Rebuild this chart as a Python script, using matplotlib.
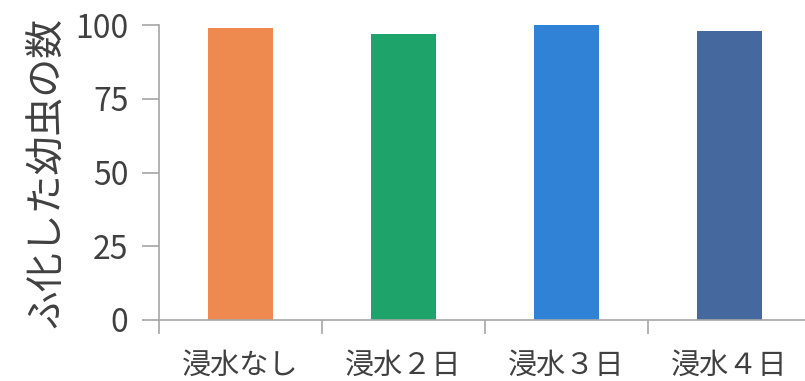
import numpy as np
import matplotlib
matplotlib.use("Agg")
import matplotlib.pyplot as plt

plt.rcParams['font.family'] = ['Noto Sans CJK JP', 'DejaVu Sans']

# data
categories = ["浸水なし", "浸水２日", "浸水３日", "浸水４日"]
hatched = [99, 97, 100, 98]
bar_colors = ["#EE8A4F", "#1EA36A", "#2F82D6", "#45699E"]

axis_grey = "#A6A6A6"
text_grey = "#404040"

fig = plt.figure(figsize=(8.05, 3.81), dpi=100)
# axes runs a little past the right edge, as in the original crop
ax = fig.add_axes([159 / 805, 61 / 381, 652 / 805, 295 / 381])

x = np.arange(len(categories))
ax.bar(x, hatched, width=0.4, color=bar_colors, zorder=2)

ax.set_xlim(-0.5, len(categories) - 0.5)
ax.set_ylim(0, 100)
ax.set_yticks([0, 25, 50, 75, 100])

# category ticks sit on the boundaries between categories
ax.set_xticks(np.arange(len(categories) + 1) - 0.5)
ax.set_xticklabels([])
ax.set_xticks(x, minor=True)
ax.set_xticklabels(categories, minor=True, fontsize=21, color=text_grey)
ax.tick_params(axis='x', which='minor', length=0, pad=22)
ax.tick_params(axis='x', which='major', length=10, color=axis_grey, width=1.2)
ax.tick_params(axis='y', length=12, color=axis_grey, width=1.2,
               labelsize=23, labelcolor=text_grey, pad=10)

for side in ['top', 'right']:
    ax.spines[side].set_visible(False)
for side in ['left', 'bottom']:
    ax.spines[side].set_color(axis_grey)
    ax.spines[side].set_linewidth(1.2)

ax.set_ylabel("ふ化した幼虫の数", fontsize=28, color=text_grey, labelpad=6)

fig.savefig("out.png", dpi=100)
